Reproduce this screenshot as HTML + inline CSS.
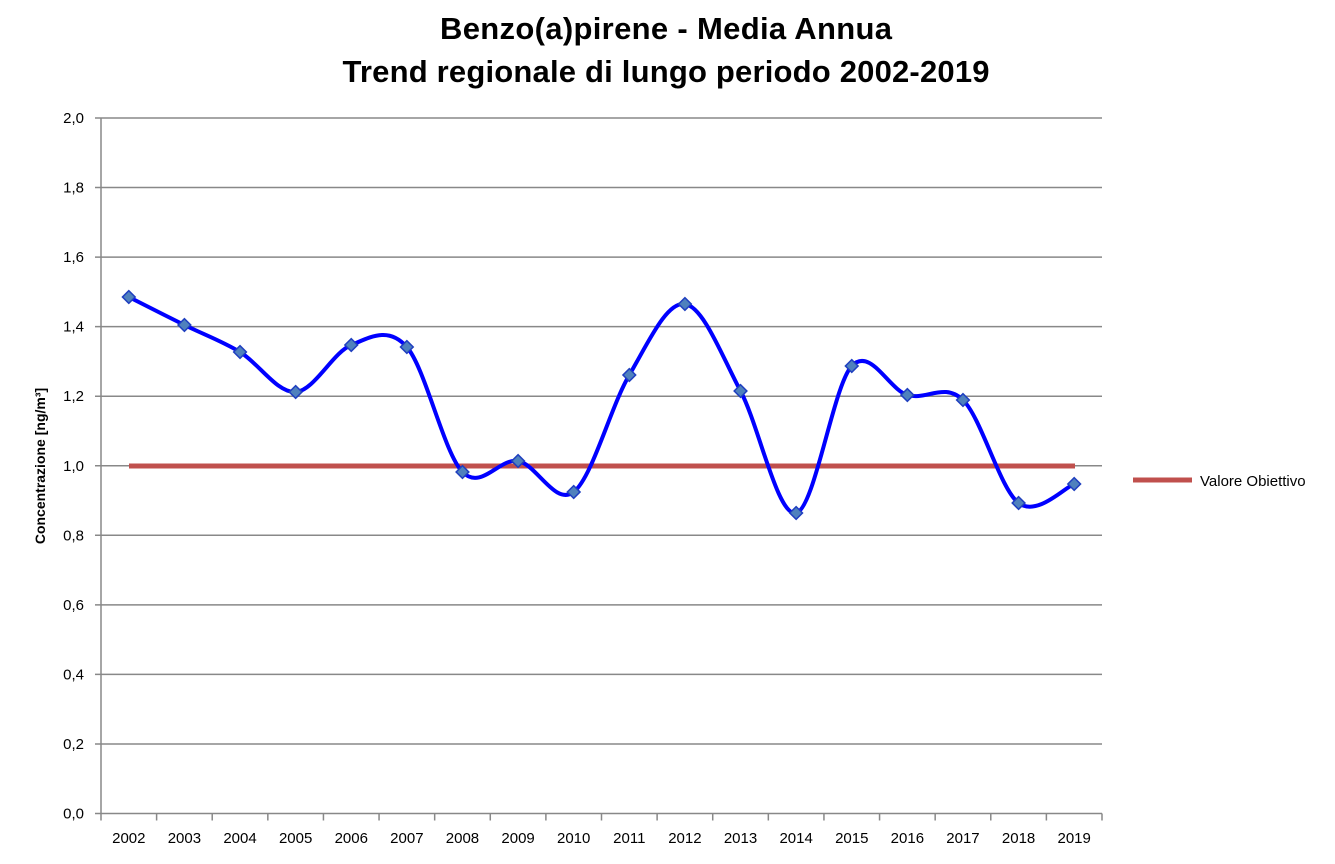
<!DOCTYPE html>
<html><head><meta charset="utf-8"><style>
body{margin:0;background:#fff;}
svg{display:block;font-family:"Liberation Sans",sans-serif;}
</style></head><body>
<svg id="s" width="1335" height="864" xmlns="http://www.w3.org/2000/svg">
<text x="666" y="39" text-anchor="middle" font-size="31" font-weight="bold" textLength="452">Benzo(a)pirene - Media Annua</text>
<text x="666" y="82" text-anchor="middle" font-size="31" font-weight="bold" textLength="647">Trend regionale di lungo periodo 2002-2019</text>
<g id="grid" stroke="#888" stroke-width="1.5"></g>
<g id="lab" font-size="15"></g>
<text transform="translate(45,466) rotate(-90)" text-anchor="middle" font-size="14" font-weight="bold">Concentrazione [ng/m³]</text>
<line x1="129" y1="466" x2="1075" y2="466" stroke="#c0504d" stroke-width="5"/>
<path id="ser" fill="none" stroke="#0000ff" stroke-width="4"/>
<g id="mk"></g>
<line x1="1133" y1="480" x2="1192" y2="480" stroke="#c0504d" stroke-width="5"/>
<text x="1200" y="486" font-size="15">Valore Obiettivo</text>
</svg>
<script>
var NS="http://www.w3.org/2000/svg";
function el(p,t,a,txt){var e=document.createElementNS(NS,t);for(var k in a)e.setAttribute(k,a[k]);if(txt!==undefined)e.textContent=txt;document.getElementById(p).appendChild(e);}
var x0=101,x1=1102,y0=813.5,dy=69.55,cw=(x1-x0)/18;
for(var i=0;i<=10;i++){var y=y0-i*dy;
 el("grid","line",{x1:x0-6,x2:x1,y1:y,y2:y});
 el("lab","text",{x:84,y:y+5,"text-anchor":"end"},(i*0.2).toFixed(1).replace(".",","));}
el("grid","line",{x1:x0,x2:x0,y1:118,y2:y0});
for(var j=0;j<=18;j++){var x=x0+j*cw;el("grid","line",{x1:x,x2:x,y1:y0,y2:y0+7});}
for(var j=0;j<18;j++){el("lab","text",{x:x0+cw*(j+.5),y:843,"text-anchor":"middle"},2002+j);}
var ys=[297,325,352,392,345,347,472,461,492,375,304,391,513,366,395,400,503,484];
var P=ys.map(function(y,j){return [x0+cw*(j+.5),y];});
var d="M"+P[0][0]+","+P[0][1];
for(var i=0;i<P.length-1;i++){var p0=P[Math.max(i-1,0)],p1=P[i],p2=P[i+1],p3=P[Math.min(i+2,P.length-1)];
 var t=1/6;d+=" C"+(p1[0]+(p2[0]-p0[0])*t)+","+(p1[1]+(p2[1]-p0[1])*t)+" "+(p2[0]-(p3[0]-p1[0])*t)+","+(p2[1]-(p3[1]-p1[1])*t)+" "+p2[0]+","+p2[1];}
document.getElementById("ser").setAttribute("d",d);
P.forEach(function(p){el("mk","rect",{x:p[0]-4.5,y:p[1]-4.5,width:9,height:9,fill:"#4f81bd",stroke:"#1f3fbf","stroke-width":1.5,transform:"rotate(45 "+p[0]+" "+p[1]+")"});});
</script>
</body></html>
